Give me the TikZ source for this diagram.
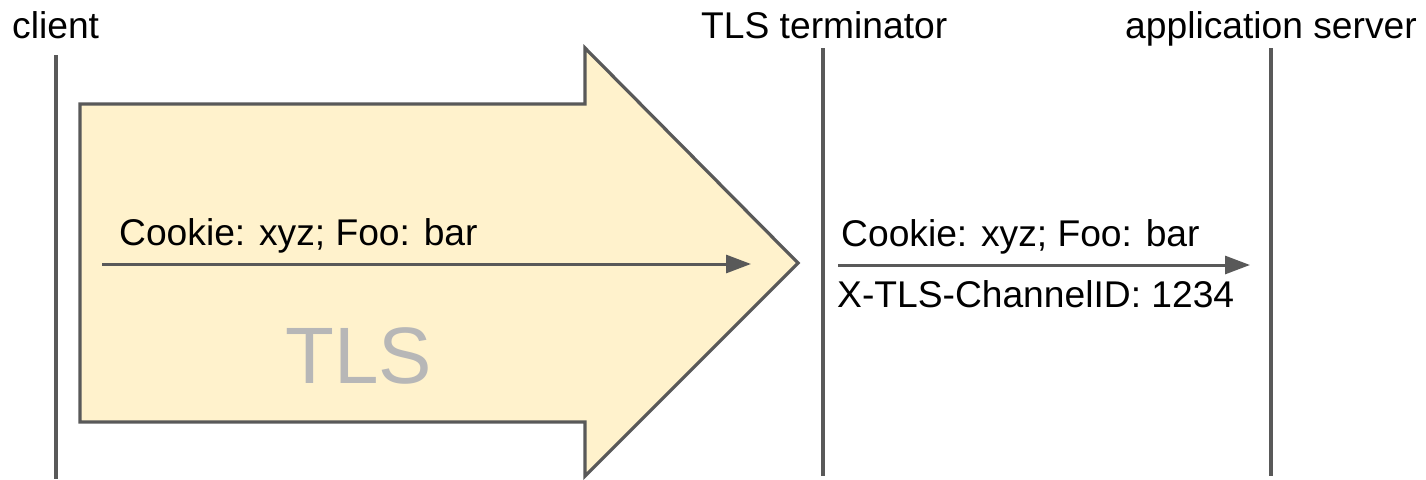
\documentclass[tikz,border=0pt]{standalone}
\usepackage{fontspec}
\setmainfont{Liberation Sans}
\usetikzlibrary{arrows.meta}
\definecolor{ink}{HTML}{595959}
\definecolor{tlsfill}{HTML}{FFF2CC}
\definecolor{tlsgray}{HTML}{B7B7B7}
\begin{document}
\begin{tikzpicture}[x=1pt,y=-1pt,
  lifeline/.style={draw=ink,line width=3.2pt},
  tunnel/.style={draw=ink,fill=tlsfill,line width=3.2pt,line join=miter},
  msg/.style={draw=ink,line width=3pt,-{Triangle[length=25pt,width=18pt]}},
  label/.style={font=\fontsize{37.2}{44}\selectfont,inner sep=0pt,anchor=base west},
  biglabel/.style={font=\fontsize{80}{96}\selectfont,text=tlsgray,inner sep=0pt,anchor=base west}]
\useasboundingbox (0,0) rectangle (1426,479);

% participant names
\node[label] (client) at (12,38) {client};
\node[label] (term) at (701,38) {TLS terminator};
\node[label] (app) at (1125,38) {application server};

% lifelines
\coordinate (clientTop) at (56,55);
\coordinate (clientBot) at (56,479);
\coordinate (termTop) at (823,48);
\coordinate (termBot) at (823,476);
\coordinate (appTop) at (1271,48);
\coordinate (appBot) at (1271,476);
\draw[lifeline] (clientTop) -- (clientBot);
\draw[lifeline] (termTop) -- (termBot);
\draw[lifeline] (appTop) -- (appBot);

% the TLS tunnel as a block arrow
\draw[tunnel] (80,104) -- (585,104) -- (585,48) -- (798,263)
  -- (585,476) -- (585,422) -- (80,422) -- cycle;
\node[biglabel] (tls) at (285,383) {TLS};

% request inside the tunnel
\coordinate (req1s) at (102,264);
\coordinate (req1e) at (751,264);
\draw[msg] (req1s) -- (req1e);
\node[label] (req1) at (119,245) {Cookie: xyz; Foo: bar};

% forwarded request
\coordinate (req2s) at (838,265);
\coordinate (req2e) at (1250,265);
\draw[msg] (req2s) -- (req2e);
\node[label] (req2) at (841,246) {Cookie: xyz; Foo: bar};
\node[label] (hdr) at (837,307) {X-TLS-ChannelID: 1234};
\end{tikzpicture}
\end{document}
